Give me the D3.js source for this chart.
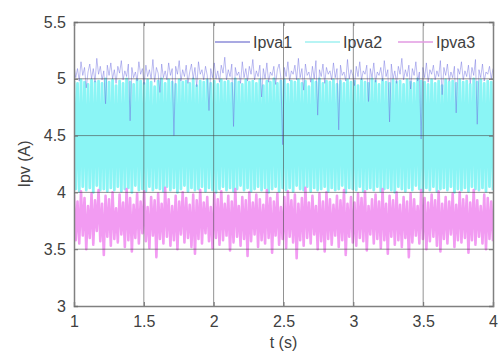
<!DOCTYPE html>
<html lang="en">
<head>
    <meta charset="UTF-8">
    <title>Ipv</title>
    <script src="https://d3js.org/d3.v7.min.js"></script>
    <style>
        body {
            margin: 0;
            background: white;
            font-family: "Liberation Sans", Arial, sans-serif;
        }
        .tick-label {
            font-size: 16px;
            fill: #404040;
        }
    </style>
</head>
<body>
    <div id="chart"></div>

    <script>
        // sample window (s)
        const tStart = 1;
        const tEnd = 4;

        const xTicks = [1, 1.5, 2, 2.5, 3, 3.5, 4];
        const yTicks = [3, 3.5, 4, 4.5, 5, 5.5];
        const seriesNames = ["Ipva1", "Ipva2", "Ipva3"];

        // values (A)
        const ipva1 = [
            5.12,5.01,5.09,4.98,5.15,5.03,5.10,4.92,5.06,5.13,5.00,5.09,4.97,5.18,5.04,5.11,4.99,5.07,4.78,5.12,
            5.03,5.14,5.00,5.08,4.96,5.11,5.05,5.16,4.99,5.07,5.02,5.13,4.63,5.10,5.01,5.06,4.98,5.15,5.04,5.09,
            4.95,5.12,5.02,5.08,5.00,5.17,4.97,5.10,5.05,4.88,5.13,5.01,5.07,4.99,5.14,5.03,5.09,4.50,5.11,5.04,
            5.16,4.98,5.08,5.02,5.12,4.96,5.06,5.13,5.00,5.10,4.93,5.15,5.04,5.08,4.99,5.11,5.03,4.72,5.09,5.01,
            5.14,5.00,5.07,4.97,5.12,5.05,5.19,4.99,5.08,5.02,5.13,4.58,5.10,5.03,5.06,4.96,5.15,5.01,5.09,4.98,
            5.11,5.04,5.17,4.99,5.07,5.02,5.12,4.84,5.09,5.00,5.14,4.97,5.06,5.03,5.11,4.95,5.08,5.13,5.01,4.42,
            5.10,5.02,5.15,4.98,5.07,5.04,5.12,4.99,5.18,5.01,5.09,4.90,5.13,5.03,5.06,4.97,5.11,5.00,5.16,4.68,
            5.08,5.02,5.13,4.96,5.10,5.04,5.07,4.99,5.14,5.01,5.09,4.55,5.12,5.03,5.06,4.98,5.17,5.00,5.08,5.03,
            4.94,5.11,5.02,5.15,4.99,5.07,5.04,5.12,4.80,5.09,5.01,5.14,4.97,5.06,5.03,5.10,4.98,5.16,5.02,5.08,
            4.62,5.13,5.00,5.07,4.96,5.11,5.04,5.18,4.99,5.08,5.02,5.12,4.91,5.09,5.03,5.15,4.98,5.06,4.47,5.10,
            5.01,5.14,4.97,5.08,5.04,5.12,4.99,5.07,5.02,5.16,4.86,5.10,5.03,5.13,4.98,5.06,5.01,5.11,4.70,5.09,
            5.04,5.15,4.99,5.07,5.02,5.12,4.96,5.10,5.03,5.17,4.60,5.08,5.01,5.13,4.98,5.06,5.04,5.11,5.00,5.09
        ];

        const ipva2 = [
            4.98,4.03,4.96,4.01,4.99,4.05,4.97,4.02,4.95,4.04,4.99,4.00,4.97,4.06,4.98,4.02,4.96,4.03,5.00,4.01,
            4.97,4.04,4.99,4.02,4.94,4.05,4.98,4.01,4.96,4.03,5.00,4.04,4.97,4.00,4.95,4.06,4.99,4.02,4.98,4.03,
            4.96,4.01,4.99,4.05,4.97,4.02,4.93,4.04,4.98,4.03,5.00,4.01,4.96,4.05,4.99,4.02,4.97,4.04,4.95,4.00,
            4.99,4.03,4.97,4.06,4.98,4.01,4.96,4.04,5.00,4.02,4.94,4.03,4.98,4.05,4.97,4.01,4.99,4.04,4.96,4.02,
            4.98,4.00,4.95,4.03,4.99,4.05,4.97,4.02,4.98,4.04,4.96,4.01,5.00,4.03,4.97,4.06,4.95,4.02,4.99,4.04,
            4.97,4.01,4.98,4.03,4.96,4.05,4.99,4.02,4.94,4.04,4.98,4.00,4.97,4.03,5.00,4.05,4.96,4.01,4.98,4.04,
            4.99,4.02,4.95,4.04,4.98,4.01,4.97,4.06,4.99,4.03,4.96,4.02,4.98,4.05,4.93,4.01,4.99,4.04,4.97,4.02,
            5.00,4.03,4.96,4.05,4.98,4.01,4.97,4.04,4.99,4.02,4.95,4.03,4.98,4.06,4.96,4.00,4.99,4.04,4.97,4.03,
            4.98,4.02,4.94,4.05,4.99,4.01,4.97,4.03,4.96,4.04,5.00,4.02,4.98,4.05,4.95,4.01,4.99,4.03,4.97,4.04,
            4.96,4.02,4.99,4.00,4.97,4.05,4.98,4.03,4.95,4.01,4.99,4.04,4.97,4.02,4.96,4.06,5.00,4.03,4.98,4.01,
            4.97,4.04,4.95,4.02,4.99,4.05,4.96,4.01,4.98,4.03,4.94,4.04,4.99,4.02,4.97,4.05,4.98,4.00,4.96,4.03,
            4.99,4.02,4.97,4.04,4.98,4.01,4.95,4.05,5.00,4.03,4.97,4.02,4.99,4.04,4.96,4.01,4.98,4.05,4.97,4.02
        ];

        const ipva3 = [
            3.98,3.58,3.92,3.55,4.01,3.62,3.95,3.50,3.88,3.60,3.99,3.54,3.93,3.66,4.02,3.57,3.90,3.45,3.97,3.61,
            3.94,3.53,4.00,3.59,3.86,3.56,3.98,3.63,3.91,3.52,4.03,3.58,3.95,3.48,3.89,3.60,3.99,3.55,3.92,3.64,
            4.01,3.57,3.87,3.51,3.96,3.62,3.93,3.43,3.99,3.59,3.90,3.55,4.04,3.61,3.94,3.53,3.88,3.58,3.97,3.50,
            3.92,3.63,4.00,3.56,3.95,3.60,3.89,3.52,3.98,3.46,3.93,3.59,4.02,3.55,3.91,3.64,3.96,3.57,3.87,3.51,
            3.99,3.60,3.94,3.54,4.01,3.58,3.90,3.62,3.97,3.49,3.92,3.56,4.03,3.61,3.88,3.53,3.96,3.59,3.93,3.44,
            4.00,3.57,3.91,3.63,3.98,3.52,3.94,3.58,3.89,3.55,4.02,3.60,3.95,3.47,3.92,3.62,3.99,3.54,3.87,3.59,
            3.96,3.51,4.01,3.61,3.93,3.56,3.98,3.42,3.90,3.58,3.95,3.53,4.04,3.60,3.91,3.55,3.97,3.63,3.88,3.50,
            3.99,3.57,3.92,3.48,4.00,3.59,3.94,3.54,3.89,3.62,3.97,3.52,3.93,3.58,4.02,3.45,3.90,3.61,3.96,3.56,
            3.91,3.53,3.99,3.60,3.95,3.57,4.01,3.49,3.88,3.63,3.94,3.55,3.98,3.59,3.92,3.51,4.03,3.58,3.90,3.46,
            3.97,3.61,3.93,3.54,4.00,3.58,3.89,3.52,3.96,3.60,3.92,3.43,3.99,3.56,3.94,3.62,3.88,3.55,4.02,3.59,
            3.95,3.50,3.91,3.57,3.98,3.61,3.93,3.53,4.01,3.48,3.90,3.59,3.96,3.55,3.92,3.63,3.99,3.52,3.89,3.58,
            4.00,3.56,3.94,3.60,3.97,3.47,3.91,3.58,4.02,3.54,3.93,3.61,3.88,3.55,3.98,3.50,3.95,3.59,3.92,3.57
        ];

        const width = 502;
        const height = 354;
        const margin = { top: 22, right: 9, bottom: 48, left: 74 };
        const chartWidth = width - margin.left - margin.right;
        const chartHeight = height - margin.top - margin.bottom;

        const svg = d3.select("#chart").append("svg")
            .attr("width", width)
            .attr("height", height)
            .append("g")
            .attr("transform", `translate(${margin.left}, ${margin.top})`);

        const x = d3.scaleLinear().domain([tStart, tEnd]).range([0, chartWidth]);
        const y = d3.scaleLinear().domain([3, 5.5]).range([chartHeight, 0]);

        // equally spaced sample instants across the window
        const tAt = (i, n) => tStart + (tEnd - tStart) * i / (n - 1);

        const line = d3.line()
            .x((d, i, arr) => x(tAt(i, arr.length)))
            .y(d => y(d));

        svg.append("defs").append("clipPath").attr("id", "clip")
            .append("rect").attr("width", chartWidth).attr("height", chartHeight);

        const plot = svg.append("g").attr("clip-path", "url(#clip)");

        plot.append("path").datum(ipva2)
            .attr("d", line)
            .attr("fill", "none")
            .attr("stroke", "#8af5f5")
            .attr("stroke-width", 2.8)
            .attr("stroke-linejoin", "round");

        plot.append("path").datum(ipva1)
            .attr("d", line)
            .attr("fill", "none")
            .attr("stroke", "#6c6ce0")
            .attr("stroke-width", 1)
            .attr("stroke-opacity", 0.45);

        plot.append("path").datum(ipva3)
            .attr("d", line)
            .attr("fill", "none")
            .attr("stroke", "#f08af0")
            .attr("stroke-width", 2.6)
            .attr("stroke-linejoin", "round")
            .attr("stroke-opacity", 0.85);

        // grid on top, as in the figure
        svg.append("g")
            .selectAll("line.vg")
            .data(xTicks.slice(1, -1))
            .enter().append("line")
            .attr("x1", d => x(d)).attr("x2", d => x(d))
            .attr("y1", 0).attr("y2", chartHeight)
            .attr("stroke", "#4a4a4a")
            .attr("stroke-opacity", 0.6);

        svg.append("g")
            .selectAll("line.hg")
            .data(yTicks.slice(1, -1))
            .enter().append("line")
            .attr("x1", 0).attr("x2", chartWidth)
            .attr("y1", d => y(d)).attr("y2", d => y(d))
            .attr("stroke", "#4a4a4a")
            .attr("stroke-opacity", 0.6);

        // axes: ticks inward, labels outside
        svg.append("g")
            .attr("transform", `translate(0, ${chartHeight})`)
            .call(d3.axisBottom(x).tickValues(xTicks).tickSize(-4).tickPadding(10)
                .tickFormat(d3.format("~g")));

        svg.append("g")
            .call(d3.axisTop(x).tickValues(xTicks).tickSize(-4).tickFormat(""));

        svg.append("g")
            .call(d3.axisLeft(y).tickValues(yTicks).tickSize(-4).tickPadding(8)
                .tickFormat(d3.format("~g")));

        svg.append("g")
            .attr("transform", `translate(${chartWidth}, 0)`)
            .call(d3.axisRight(y).tickValues(yTicks).tickSize(-4).tickFormat(""));

        svg.selectAll(".domain").attr("stroke", "#808080").attr("stroke-width", 1.5);
        svg.selectAll(".tick line").attr("stroke", "#707070");
        svg.selectAll(".tick text")
            .attr("class", "tick-label")
            .style("font-family", "'Liberation Sans', Arial, sans-serif");

        // axis titles
        svg.append("text")
            .attr("x", chartWidth / 2)
            .attr("y", chartHeight + 42)
            .attr("text-anchor", "middle")
            .attr("class", "tick-label")
            .text("t (s)");

        svg.append("text")
            .attr("transform", `translate(-44, ${chartHeight / 2}) rotate(-90)`)
            .attr("text-anchor", "middle")
            .attr("class", "tick-label")
            .text("Ipv (A)");

        // legend (no box)
        const legendColors = ["#8c8cd8", "#9ff0f0", "#e29ae2"];
        const legendX = [141, 231, 324];
        const legend = svg.append("g").attr("transform", "translate(0, 20)");
        seriesNames.forEach((name, i) => {
            legend.append("line")
                .attr("x1", legendX[i]).attr("x2", legendX[i] + 35)
                .attr("stroke", legendColors[i])
                .attr("stroke-width", 1.5);
            legend.append("text")
                .attr("x", legendX[i] + 38)
                .attr("y", 6)
                .attr("class", "tick-label")
                .text(name);
        });
    </script>
</body>
</html>
